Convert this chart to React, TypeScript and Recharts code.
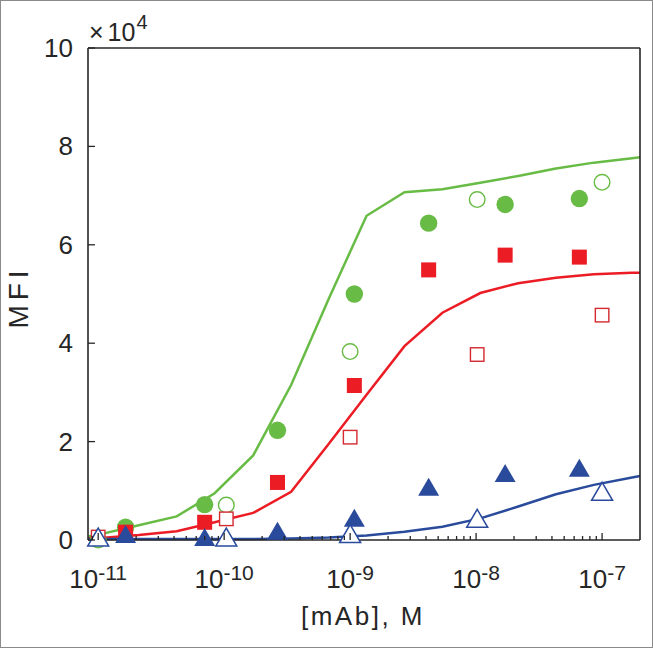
import { ComposedChart, Line, Scatter, XAxis, YAxis } from "recharts"

const AXIS = "#262626"
const GREEN = "#68bc45"
const RED = "#ec1c24"
const BLUE = "#2a4b9c"
const FONT = "'Liberation Sans', Arial, Helvetica, sans-serif"

const X_MIN = 8.3e-12
const X_MAX = 2e-7

// concentrations
const concFilled = [1.65e-11, 7e-11, 2.65e-10, 1.08e-9, 4.2e-9, 1.7e-8, 6.6e-8]
const concOpen = [1e-11, 1.04e-10, 1e-9, 1.02e-8, 1e-7]
const concFit = [
  8.3e-12, 1.05e-11, 2.1e-11, 4.2e-11, 8.4e-11, 1.7e-10, 3.4e-10, 6.75e-10,
  1.35e-9, 2.7e-9, 5.4e-9, 1.08e-8, 2.16e-8, 4.3e-8, 8.6e-8, 1.73e-7, 2e-7,
]

// MFI (x10^4)
const greenFilled = [0.26, 0.72, 2.23, 5.0, 6.44, 6.82, 6.94]
const greenOpen = [0.0, 0.71, 3.83, 6.92, 7.27]
const redFilled = [0.16, 0.36, 1.17, 3.14, 5.49, 5.79, 5.75]
const redOpen = [0.06, 0.43, 2.09, 3.77, 4.57]
const blueFilled = [0.12, 0.06, 0.19, 0.45, 1.08, 1.36, 1.47]
const blueOpen = [0.06, 0.06, 0.13, 0.44, 0.99]

const greenFit = [0.07, 0.12, 0.3, 0.48, 0.95, 1.72, 3.15, 4.9, 6.59, 7.07, 7.13, 7.26, 7.4, 7.55, 7.67, 7.76, 7.78]
const redFit = [0.03, 0.04, 0.1, 0.18, 0.36, 0.55, 0.98, 1.95, 2.95, 3.94, 4.62, 5.02, 5.22, 5.33, 5.4, 5.43, 5.43]
const blueFit = [0.02, 0.02, 0.02, 0.02, 0.02, 0.02, 0.03, 0.05, 0.09, 0.17, 0.27, 0.44, 0.68, 0.93, 1.12, 1.27, 1.3]

const xTicks = [
  9e-12,
  1e-11, 2e-11, 3e-11, 4e-11, 5e-11, 6e-11, 7e-11, 8e-11, 9e-11,
  1e-10, 2e-10, 3e-10, 4e-10, 5e-10, 6e-10, 7e-10, 8e-10, 9e-10,
  1e-9, 2e-9, 3e-9, 4e-9, 5e-9, 6e-9, 7e-9, 8e-9, 9e-9,
  1e-8, 2e-8, 3e-8, 4e-8, 5e-8, 6e-8, 7e-8, 8e-8, 9e-8,
  1e-7,
]
const yTicks = [0, 2, 4, 6, 8, 10]

const pts = (xs: number[], ys: number[]) => xs.map((x, i) => ({ x, y: ys[i] }))

function decade(v: number) {
  const e = Math.round(Math.log10(v))
  return Math.abs(Math.log10(v) - e) < 1e-6 ? e : null
}

function BottomTick(props: any) {
  const { x, y, payload } = props
  const e = decade(payload.value)
  return (
    <g>
      <line x1={x} x2={x} y1={y} y2={y - (e !== null ? 7 : 4)} stroke={AXIS} strokeWidth={1.3} />
      {e !== null && (
        <text x={x} y={y + 48} textAnchor="middle" fontSize={26} fill={AXIS} fontFamily={FONT}>
          <tspan>10</tspan>
          <tspan dy={-8} fontSize={21}>{e}</tspan>
        </text>
      )}
    </g>
  )
}

function TopTick(props: any) {
  const { x, y, payload } = props
  const e = decade(payload.value)
  return <line x1={x} x2={x} y1={y} y2={y + (e !== null ? 7 : 4)} stroke={AXIS} strokeWidth={1.3} />
}

function LeftTick(props: any) {
  const { x, y, payload } = props
  return (
    <g>
      <line x1={x} x2={x + 7} y1={y} y2={y} stroke={AXIS} strokeWidth={1.3} />
      <text x={x - 15} y={y + 9} textAnchor="end" fontSize={26} fill={AXIS} fontFamily={FONT}>
        {payload.value}
      </text>
    </g>
  )
}

function RightTick(props: any) {
  const { x, y } = props
  return <line x1={x} x2={x - 7} y1={y} y2={y} stroke={AXIS} strokeWidth={1.3} />
}

const dot = (fill: string, stroke: string) => (p: any) =>
  <circle cx={p.cx} cy={p.cy} r={fill === "#fff" ? 7.8 : 8.7} fill={fill} stroke={stroke} strokeWidth={1.4} />

const square = (fill: string, stroke: string) => (p: any) => {
  const s = fill === "#fff" ? 13.5 : 15
  return <rect x={p.cx - s / 2} y={p.cy - s / 2} width={s} height={s} fill={fill} stroke={stroke} strokeWidth={1.4} />
}

const triangle = (fill: string, stroke: string) => (p: any) => {
  const w = 21
  const h = 18
  return (
    <polygon
      points={`${p.cx},${p.cy - h / 2} ${p.cx + w / 2},${p.cy + h / 2} ${p.cx - w / 2},${p.cy + h / 2}`}
      fill={fill}
      stroke={stroke}
      strokeWidth={1.5}
    />
  )
}

export default function App() {
  return (
    <div style={{ position: "absolute", left: 0, top: 0, width: 653, height: 648, background: "#fff" }}>
      <ComposedChart width={653} height={648} margin={{ top: 0, right: 0, bottom: 0, left: 0 }}>
        <XAxis
          dataKey="x"
          type="number"
          scale="log"
          domain={[X_MIN, X_MAX]}
          ticks={xTicks}
          interval={0}
          tickSize={0}
          tickMargin={0}
          tickLine={false}
          axisLine={{ stroke: AXIS, strokeWidth: 1.6 }}
          height={108}
          tick={BottomTick}
          label={() => (
            <text x={363} y={625} textAnchor="middle" fontSize={26} fill={AXIS} fontFamily={FONT} letterSpacing={2.5}>
              [mAb], M
            </text>
          )}
        />
        <XAxis
          xAxisId="top"
          orientation="top"
          dataKey="x"
          type="number"
          scale="log"
          domain={[X_MIN, X_MAX]}
          ticks={xTicks}
          interval={0}
          tickSize={0}
          tickMargin={0}
          tickLine={false}
          axisLine={{ stroke: AXIS, strokeWidth: 1.6 }}
          height={48}
          tick={TopTick}
          label={() => (
            <text x={89} y={41} fontSize={25} fill={AXIS} fontFamily={FONT}>
              <tspan>×</tspan>
              <tspan dx={4}>10</tspan>
              <tspan dx={1} dy={-12} fontSize={20}>4</tspan>
            </text>
          )}
        />
        <YAxis
          dataKey="y"
          type="number"
          domain={[0, 10]}
          ticks={yTicks}
          interval={0}
          tickSize={0}
          tickMargin={0}
          tickLine={false}
          axisLine={{ stroke: AXIS, strokeWidth: 1.6 }}
          width={88}
          tick={LeftTick}
          label={() => (
            <text
              x={28}
              y={297}
              textAnchor="middle"
              fontSize={28}
              fill={AXIS}
              fontFamily={FONT}
              letterSpacing={5}
              transform="rotate(-90 28 297)"
            >
              MFI
            </text>
          )}
        />
        <YAxis
          yAxisId="right"
          orientation="right"
          type="number"
          domain={[0, 10]}
          ticks={yTicks}
          interval={0}
          tickSize={0}
          tickMargin={0}
          tickLine={false}
          axisLine={{ stroke: AXIS, strokeWidth: 1.6 }}
          width={13}
          tick={RightTick}
        />

        <Line data={pts(concFit, greenFit)} dataKey="y" type="linear" stroke={GREEN} strokeWidth={2.5} dot={false} isAnimationActive={false} />
        <Line data={pts(concFit, redFit)} dataKey="y" type="linear" stroke={RED} strokeWidth={2.5} dot={false} isAnimationActive={false} />
        <Line data={pts(concFit, blueFit)} dataKey="y" type="linear" stroke={BLUE} strokeWidth={2.5} dot={false} isAnimationActive={false} />

        <Scatter data={pts(concOpen, greenOpen)} shape={dot("#fff", GREEN)} isAnimationActive={false} />
        <Scatter data={pts(concFilled, greenFilled)} shape={dot(GREEN, "none")} isAnimationActive={false} />
        <Scatter data={pts(concFilled, redFilled)} shape={square(RED, "none")} isAnimationActive={false} />
        <Scatter data={pts(concOpen, redOpen)} shape={square("#fff", "#d42a30")} isAnimationActive={false} />
        <Scatter data={pts(concFilled, blueFilled)} shape={triangle(BLUE, "none")} isAnimationActive={false} />
        <Scatter data={pts(concOpen, blueOpen)} shape={triangle("#fff", BLUE)} isAnimationActive={false} />
      </ComposedChart>
      <div
        style={{
          position: "absolute",
          left: 0,
          top: 0,
          width: 653,
          height: 648,
          boxSizing: "border-box",
          border: "1px solid #8a8a8a",
          pointerEvents: "none",
        }}
      />
    </div>
  )
}
